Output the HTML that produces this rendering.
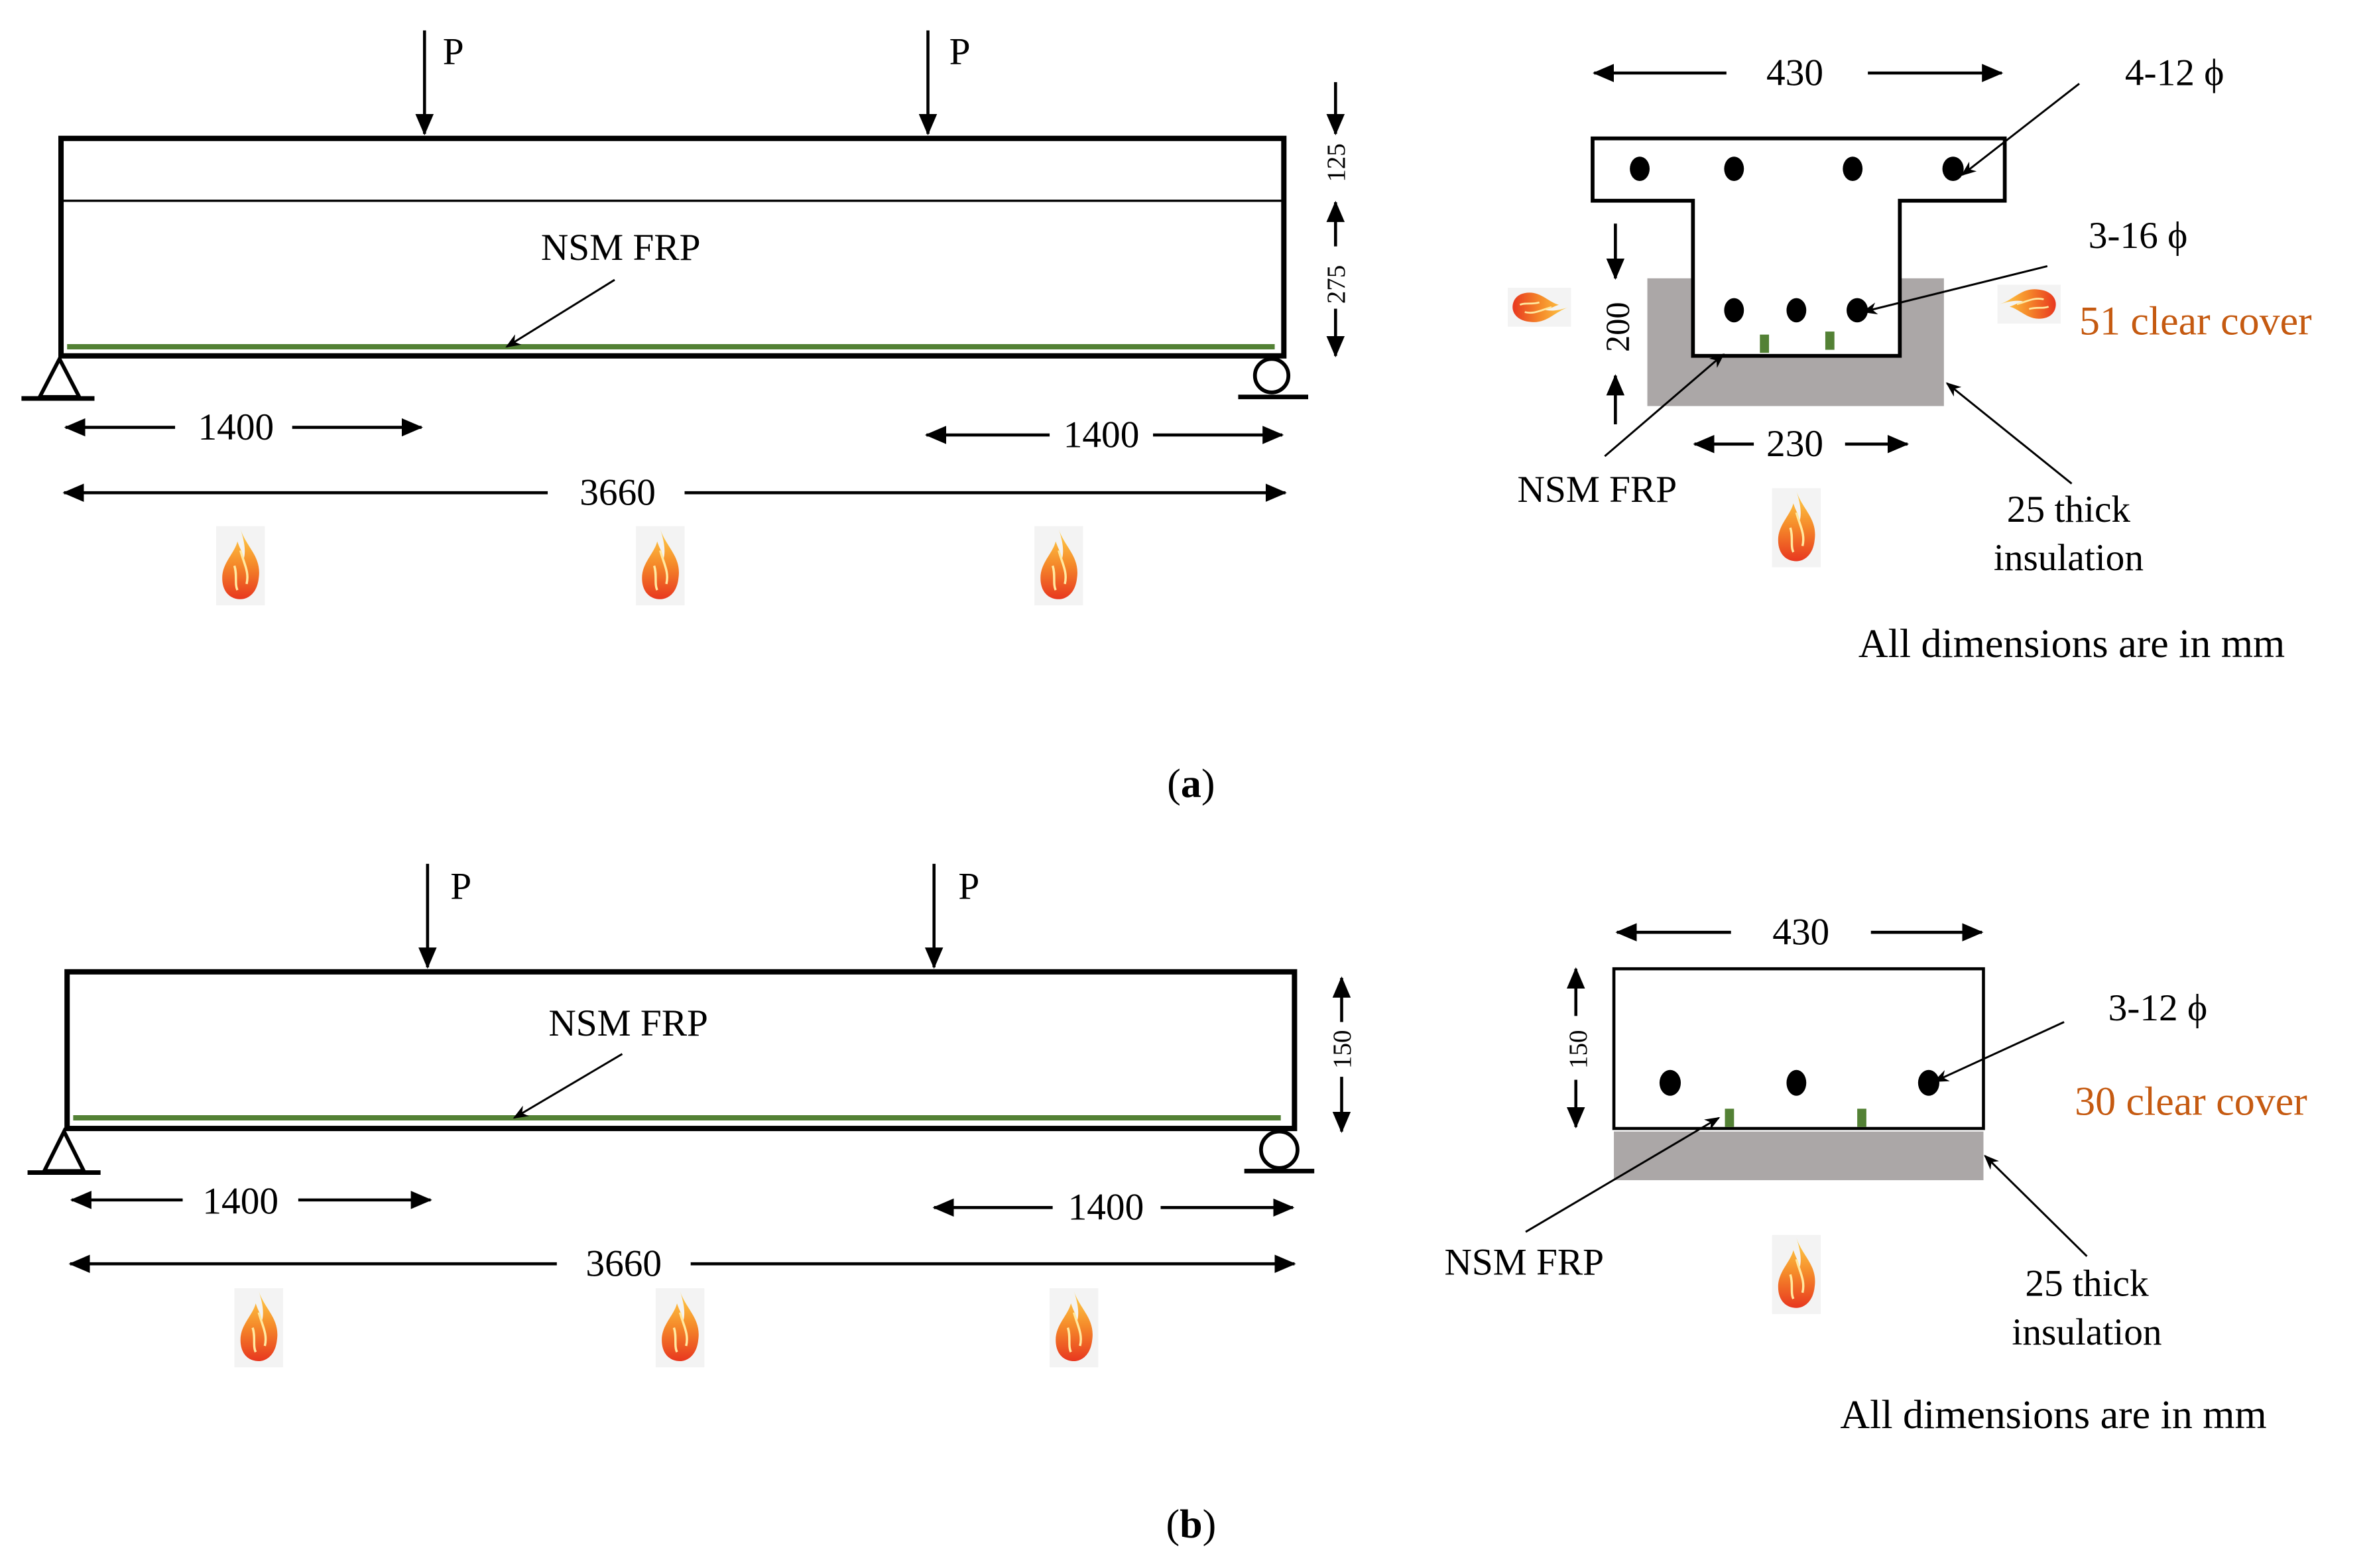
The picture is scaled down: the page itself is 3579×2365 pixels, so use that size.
<!DOCTYPE html>
<html><head><meta charset="utf-8"><style>
html,body{margin:0;padding:0;background:#fff;}
svg{display:block;}
text{font-family:"Liberation Serif",serif;fill:#000;}
</style></head><body>
<svg width="3579" height="2365" viewBox="0 0 1560 1031" xmlns="http://www.w3.org/2000/svg">
<defs>
<marker id="a" markerWidth="14" markerHeight="12" refX="13" refY="6" orient="auto" markerUnits="userSpaceOnUse"><path d="M0,0 L14,6 L0,12 Z" fill="#000"/></marker>
<marker id="s" markerWidth="10" markerHeight="8" refX="9" refY="4" orient="auto" markerUnits="userSpaceOnUse"><path d="M0,0 L10,4 L0,8 L3,4 Z" fill="#000"/></marker>
<linearGradient id="fg" x1="0" y1="0" x2="0" y2="1"><stop offset="0" stop-color="#ffd24a"/><stop offset="0.5" stop-color="#f58a2a"/><stop offset="1" stop-color="#e8371f"/></linearGradient>
<g id="fire"><rect x="-16" y="-26" width="32" height="52" fill="#f3f3f3"/><path d="M0,-24 C4,-12 14,-6 12,8 C11,18 5,22 0,22 C-6,22 -12,18 -12,8 C-12,-2 -4,-8 -2,-16 C0,-10 2,-8 2,-4 C4,-10 2,-18 0,-24 Z" fill="url(#fg)"/><path d="M0,-10 C2,-2 6,4 4,12 M-4,0 C-2,6 -4,12 -2,16" stroke="#ffe9a0" stroke-width="1.5" fill="none"/></g>
</defs>
<g stroke="#000" fill="none">
<!-- Panel a beam -->
<line x1="279" y1="20" x2="279" y2="88" stroke-width="2" marker-end="url(#a)"/>
<line x1="610" y1="20" x2="610" y2="88" stroke-width="2" marker-end="url(#a)"/>
<rect x="40" y="91" width="804" height="143" stroke-width="3.5"/>
<line x1="40" y1="132" x2="844" y2="132" stroke-width="1.5"/>
<line x1="44" y1="228" x2="838" y2="228" stroke="#538135" stroke-width="3.5"/>
<line x1="404" y1="184" x2="333" y2="228" stroke-width="1.3" marker-end="url(#s)"/>
<path d="M39,236 L26,261 L52,261 Z" stroke-width="2.5"/>
<line x1="14" y1="262" x2="62" y2="262" stroke-width="3"/>
<circle cx="836" cy="247" r="11" stroke-width="2.5"/>
<line x1="814" y1="261" x2="860" y2="261" stroke-width="3"/>
<line x1="115" y1="281" x2="43" y2="281" stroke-width="2" marker-end="url(#a)"/>
<line x1="192" y1="281" x2="277" y2="281" stroke-width="2" marker-end="url(#a)"/>
<line x1="690" y1="286" x2="609" y2="286" stroke-width="2" marker-end="url(#a)"/>
<line x1="758" y1="286" x2="843" y2="286" stroke-width="2" marker-end="url(#a)"/>
<line x1="360" y1="324" x2="42" y2="324" stroke-width="2" marker-end="url(#a)"/>
<line x1="450" y1="324" x2="845" y2="324" stroke-width="2" marker-end="url(#a)"/>
<line x1="878" y1="54" x2="878" y2="88" stroke-width="2" marker-end="url(#a)"/>
<line x1="878" y1="162" x2="878" y2="133" stroke-width="2" marker-end="url(#a)"/>
<line x1="878" y1="203" x2="878" y2="234" stroke-width="2" marker-end="url(#a)"/>
<!-- T section -->
<rect x="1083" y="183" width="195" height="84" fill="#aba7a7" stroke="none"/>
<path d="M1047,91 H1318 V132 H1249 V234 H1113 V132 H1047 Z" fill="#fff" stroke-width="2.5"/>
<line x1="1135" y1="48" x2="1048" y2="48" stroke-width="2" marker-end="url(#a)"/>
<line x1="1228" y1="48" x2="1316" y2="48" stroke-width="2" marker-end="url(#a)"/>
<line x1="1367" y1="55" x2="1290" y2="115" stroke-width="1.3" marker-end="url(#s)"/>
<line x1="1346" y1="175" x2="1225" y2="205" stroke-width="1.3" marker-end="url(#s)"/>
<line x1="1062" y1="147" x2="1062" y2="183" stroke-width="2" marker-end="url(#a)"/>
<line x1="1062" y1="279" x2="1062" y2="247" stroke-width="2" marker-end="url(#a)"/>
<line x1="1153" y1="292" x2="1114" y2="292" stroke-width="2" marker-end="url(#a)"/>
<line x1="1213" y1="292" x2="1254" y2="292" stroke-width="2" marker-end="url(#a)"/>
<line x1="1055" y1="300" x2="1133" y2="233" stroke-width="1.3" marker-end="url(#s)"/>
<line x1="1362" y1="318" x2="1280" y2="252" stroke-width="1.3" marker-end="url(#s)"/>
<!-- Panel b beam -->
<line x1="281" y1="568" x2="281" y2="636" stroke-width="2" marker-end="url(#a)"/>
<line x1="614" y1="568" x2="614" y2="636" stroke-width="2" marker-end="url(#a)"/>
<rect x="44" y="639" width="807" height="103" stroke-width="3.5"/>
<line x1="48" y1="735" x2="842" y2="735" stroke="#538135" stroke-width="3.5"/>
<line x1="409" y1="693" x2="338" y2="735" stroke-width="1.3" marker-end="url(#s)"/>
<path d="M42,744 L29,770 L55,770 Z" stroke-width="2.5"/>
<line x1="18" y1="771" x2="66" y2="771" stroke-width="3"/>
<circle cx="841" cy="756" r="12" stroke-width="2.5"/>
<line x1="818" y1="770" x2="864" y2="770" stroke-width="3"/>
<line x1="120" y1="789" x2="47" y2="789" stroke-width="2" marker-end="url(#a)"/>
<line x1="196" y1="789" x2="283" y2="789" stroke-width="2" marker-end="url(#a)"/>
<line x1="692" y1="794" x2="614" y2="794" stroke-width="2" marker-end="url(#a)"/>
<line x1="763" y1="794" x2="850" y2="794" stroke-width="2" marker-end="url(#a)"/>
<line x1="366" y1="831" x2="46" y2="831" stroke-width="2" marker-end="url(#a)"/>
<line x1="454" y1="831" x2="851" y2="831" stroke-width="2" marker-end="url(#a)"/>
<line x1="882" y1="672" x2="882" y2="643" stroke-width="2" marker-end="url(#a)"/>
<line x1="882" y1="708" x2="882" y2="744" stroke-width="2" marker-end="url(#a)"/>
<!-- rect section -->
<rect x="1061" y="744" width="243" height="32" fill="#aba7a7" stroke="none"/>
<rect x="1061" y="637" width="243" height="105" fill="#fff" stroke-width="2"/>
<line x1="1138" y1="613" x2="1063" y2="613" stroke-width="2" marker-end="url(#a)"/>
<line x1="1230" y1="613" x2="1303" y2="613" stroke-width="2" marker-end="url(#a)"/>
<line x1="1357" y1="672" x2="1272" y2="711" stroke-width="1.3" marker-end="url(#s)"/>
<line x1="1036" y1="668" x2="1036" y2="637" stroke-width="2" marker-end="url(#a)"/>
<line x1="1036" y1="710" x2="1036" y2="741" stroke-width="2" marker-end="url(#a)"/>
<line x1="1003" y1="810" x2="1130" y2="735" stroke-width="1.3" marker-end="url(#s)"/>
<line x1="1372" y1="826" x2="1305" y2="760" stroke-width="1.3" marker-end="url(#s)"/>
</g>
<g fill="#000">
<ellipse cx="1078" cy="111" rx="6.5" ry="8"/><ellipse cx="1140" cy="111" rx="6.5" ry="8"/><ellipse cx="1218" cy="111" rx="6.5" ry="8"/><ellipse cx="1284" cy="111" rx="7" ry="8"/>
<ellipse cx="1140" cy="204" rx="6.5" ry="8"/><ellipse cx="1181" cy="204" rx="6.5" ry="8"/><ellipse cx="1221" cy="204" rx="7" ry="8"/>
<ellipse cx="1098" cy="712" rx="7" ry="8.5"/><ellipse cx="1181" cy="712" rx="6.5" ry="8.5"/><ellipse cx="1268" cy="712" rx="7" ry="8.5"/>
</g>
<g fill="#538135">
<rect x="1157" y="220" width="6" height="12"/><rect x="1200" y="218" width="6" height="12"/>
<rect x="1134" y="729" width="6" height="12"/><rect x="1221" y="729" width="6" height="12"/>
</g>
<use href="#fire" x="158" y="372"/><use href="#fire" x="434" y="372"/><use href="#fire" x="696" y="372"/>
<use href="#fire" x="1181" y="347"/>
<use href="#fire" transform="translate(1012,202) rotate(90) scale(0.8)"/>
<use href="#fire" transform="translate(1334,200) rotate(-90) scale(0.8)"/>
<use href="#fire" x="170" y="873"/><use href="#fire" x="447" y="873"/><use href="#fire" x="706" y="873"/>
<use href="#fire" x="1181" y="838"/>
<g font-size="25">
<text x="291" y="42">P</text><text x="624" y="42">P</text>
<text x="408" y="171" text-anchor="middle">NSM FRP</text>
<text x="155" y="289" text-anchor="middle">1400</text>
<text x="724" y="294" text-anchor="middle">1400</text>
<text x="406" y="332" text-anchor="middle">3660</text>
<text x="1180" y="56" text-anchor="middle">430</text>
<text x="1397" y="56">4-12 ϕ</text>
<text x="1373" y="163">3-16 ϕ</text>
<text x="1367" y="220" font-size="27" style="fill:#c55a11">51 clear cover</text>
<text x="1180" y="300" text-anchor="middle">230</text>
<text x="1050" y="330" text-anchor="middle">NSM FRP</text>
<text x="1360" y="343" text-anchor="middle">25 thick</text>
<text x="1360" y="375" text-anchor="middle">insulation</text>
<text x="1362" y="432" text-anchor="middle" font-size="27">All dimensions are in mm</text>
<text x="783" y="524" text-anchor="middle" font-size="27">(<tspan font-weight="bold">a</tspan>)</text>
<text x="296" y="591">P</text><text x="630" y="591">P</text>
<text x="413" y="681" text-anchor="middle">NSM FRP</text>
<text x="158" y="798" text-anchor="middle">1400</text>
<text x="727" y="802" text-anchor="middle">1400</text>
<text x="410" y="839" text-anchor="middle">3660</text>
<text x="1184" y="621" text-anchor="middle">430</text>
<text x="1386" y="671">3-12 ϕ</text>
<text x="1364" y="733" font-size="27" style="fill:#c55a11">30 clear cover</text>
<text x="1002" y="838" text-anchor="middle">NSM FRP</text>
<text x="1372" y="852" text-anchor="middle">25 thick</text>
<text x="1372" y="884" text-anchor="middle">insulation</text>
<text x="1350" y="939" text-anchor="middle" font-size="27">All dimensions are in mm</text>
<text x="783" y="1011" text-anchor="middle" font-size="27">(<tspan font-weight="bold">b</tspan>)</text>
</g>
<g font-size="17">
<text transform="translate(884,107) rotate(-90)" text-anchor="middle">125</text>
<text transform="translate(884,187) rotate(-90)" text-anchor="middle">275</text>
<text transform="translate(888,690) rotate(-90)" text-anchor="middle">150</text>
<text transform="translate(1071,215) rotate(-90)" text-anchor="middle" font-size="22">200</text>
<text transform="translate(1043,690) rotate(-90)" text-anchor="middle">150</text>
</g>
</svg>
</body></html>
